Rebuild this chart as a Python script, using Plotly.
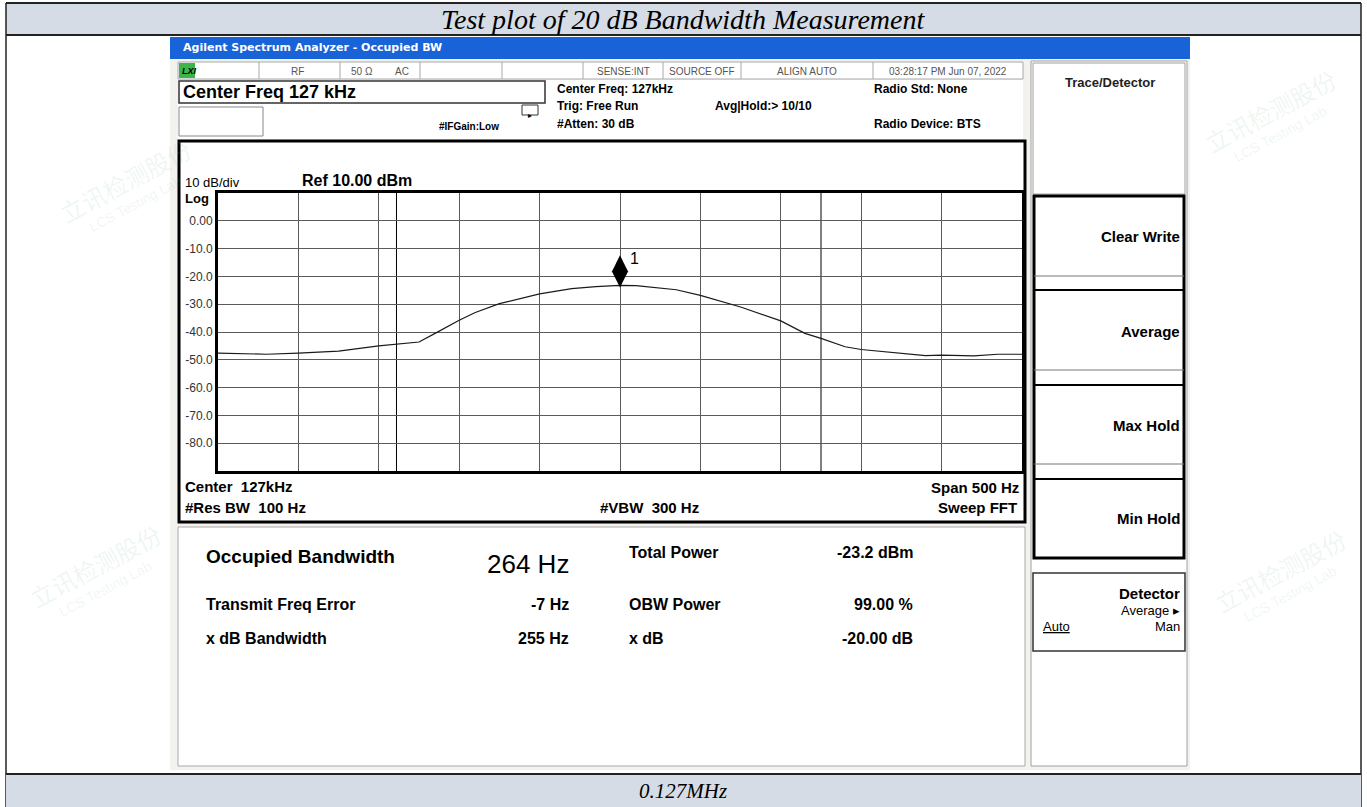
import plotly.graph_objects as go

W, H = 1367, 807

# ---------------- data ----------------
center_khz = 127
span_hz = 500
ref_level_dbm = 10
bottom_level_dbm = -90
freq_offset_hz = [-250, -230, -220, -200, -175, -150, -140, -125, -115, -100, -90, -75, -50, -30, -15, 0,
                  10, 20, 35, 50, 75, 100, 115, 125, 140, 150, 175, 190, 200, 220, 235, 250]
level_dbm = [-47.6, -47.8, -48.0, -47.6, -46.9, -45.0, -44.4, -43.6, -40.5, -35.8, -33.0, -29.8, -26.3, -24.4, -23.7, -23.2,
             -23.3, -23.8, -24.8, -26.8, -31.0, -36.0, -40.5, -42.3, -45.3, -46.3, -47.7, -48.5, -48.3, -48.6, -48.0, -48.0]
ytick_vals = [0, -10, -20, -30, -40, -50, -60, -70, -80]
ytick_text = ["0.00", "-10.0", "-20.0", "-30.0", "-40.0", "-50.0", "-60.0", "-70.0", "-80.0"]
obw_hz = 264
freq_error_hz = -7
xdb_bw_hz = 255
marker_name = "1"

# ---------------- helpers ----------------
def px(x):
    return x / W

def py(y):
    return 1 - y / H

shapes = []
annotations = []

def rect(x0, y0, x1, y1, fill=None, line=None, lw=1):
    shapes.append(dict(type="rect", xref="paper", yref="paper",
                       x0=px(x0), x1=px(x1), y0=py(y1), y1=py(y0),
                       fillcolor=fill if fill else "rgba(0,0,0,0)",
                       line=dict(color=line if line else "rgba(0,0,0,0)", width=lw if line else 0),
                       layer="below"))

def hline(x0, x1, y, color="black", lw=1):
    shapes.append(dict(type="line", xref="paper", yref="paper", x0=px(x0), x1=px(x1), y0=py(y), y1=py(y),
                       line=dict(color=color, width=lw), layer="below"))

def vline(x, y0, y1, color="black", lw=1):
    shapes.append(dict(type="line", xref="paper", yref="paper", x0=px(x), x1=px(x), y0=py(y0), y1=py(y1),
                       line=dict(color=color, width=lw), layer="below"))

def text(x, y, s, size=12, bold=False, anchor="left", color="black", family="Liberation Sans, Arial",
         italic=False, angle=0):
    annotations.append(dict(xref="paper", yref="paper", x=px(x), y=py(y), text=s, showarrow=False,
                            xanchor=anchor, yanchor="middle", textangle=angle,
                            font=dict(size=size, color=color, family=family,
                                      weight="bold" if bold else "normal",
                                      style="italic" if italic else "normal")))

# ---------------- document frame ----------------
rect(6, 3, 1361, 35, fill="#D6DCE5")
hline(6, 1361, 3, "#222", 2)
hline(6, 1361, 35, "#222", 2)
vline(6, 3, 807, "#222", 1.5)
vline(1361, 3, 807, "#222", 1.5)
text(683, 19, "Test plot of 20 dB Bandwidth Measurement", size=28, italic=True,
     anchor="center", family="Liberation Serif, Times New Roman")
rect(6, 774, 1361, 807, fill="#D6DCE5")
hline(6, 1361, 774, "#222", 2)
text(683, 791, "0.127MHz", size=21, italic=True, anchor="center", family="Liberation Serif, Times New Roman")

# watermarks (very faint)
for (wx, wy) in [(125, 180), (95, 565), (1270, 110), (1280, 570)]:
    text(wx, wy, "立讯检测股份", size=24, color="rgba(120,185,150,0.13)",
         family="Noto Sans CJK SC", angle=-28, anchor="center")
    text(wx + 10, wy + 24, "LCS Testing Lab", size=14, color="rgba(120,185,150,0.13)", angle=-28, anchor="center")

# ---------------- analyzer screenshot ----------------
rect(170, 37, 1190, 770, fill="#F3F2EE")
rect(170, 37, 1190, 59, fill="#1863D8")
text(181, 48, "Agilent Spectrum Analyzer - Occupied BW", size=11, bold=True, color="white",
     family="DejaVu Sans, Tahoma")

# status row
rect(178, 62, 1023, 79, fill="white", line="#A8A8A8", lw=1)
rect(179, 63, 195, 78, fill="#39B54A")
text(180, 71, "LXI", size=9, bold=True, italic=True, color="black")
for dx in [259, 340, 420, 502, 583, 663, 741, 873]:
    vline(dx, 62, 79, "#A8A8A8", 1)
for (tx, s) in [(297, "RF"), (362, "50 Ω"), (402, "AC"), (623, "SENSE:INT"), (702, "SOURCE OFF"), (807, "ALIGN AUTO"),
                (948, "03:28:17 PM Jun 07, 2022")]:
    text(tx, 71, s, size=10, color="#555", anchor="center")

# center freq area
rect(178, 80, 1023, 139, fill="white")
rect(179, 81, 545, 103, fill="white", line="#333", lw=1.5)
text(181, 92, "Center Freq 127 kHz", size=18, bold=True)
rect(179, 107, 263, 136, fill="white", line="#888", lw=1)
rect(522, 105, 538, 115, fill="white", line="#333", lw=1)
text(530, 116, "▸", size=8, anchor="center")
text(469, 127, "#IFGain:Low", size=10, bold=True, anchor="center")
text(555, 89, "Center Freq: 127kHz", size=12, bold=True)
text(555, 106, "Trig: Free Run", size=12, bold=True)
text(555, 124, "#Atten: 30 dB", size=12, bold=True)
text(713, 106, "Avg|Hold:> 10/10", size=12, bold=True)
text(872, 89, "Radio Std: None", size=12, bold=True)
text(872, 124, "Radio Device: BTS", size=12, bold=True)

# graph frame
rect(179, 141, 1025, 522, fill="white", line="black", lw=3)
text(183, 183, "10 dB/div", size=13)
text(300, 181, "Ref 10.00 dBm", size=16, bold=True)
text(183, 199, "Log", size=13, bold=True)
text(183, 486, "Center  127kHz", size=15, bold=True)
text(183, 508, "#Res BW  100 Hz", size=15, bold=True)
text(649, 508, "#VBW  300 Hz", size=15, bold=True, anchor="center")
text(1021, 487, "Span 500 Hz", size=15, bold=True, anchor="right")
text(1019, 508, "Sweep FFT", size=15, bold=True, anchor="right")

# results panel
rect(178, 527, 1025, 766, fill="white", line="#A8A8A8", lw=1)
text(204, 556, "Occupied Bandwidth", size=19, bold=True)
text(571, 564, f"{obw_hz} Hz", size=26, anchor="right")
text(204, 604, "Transmit Freq Error", size=16, bold=True)
text(571, 604, f"{freq_error_hz} Hz", size=16, bold=True, anchor="right")
text(204, 638, "x dB Bandwidth", size=16, bold=True)
text(571, 638, f"{xdb_bw_hz} Hz", size=16, bold=True, anchor="right")
text(627, 552, "Total Power", size=16, bold=True)
text(915, 552, "-23.2 dBm", size=16, bold=True, anchor="right")
text(627, 604, "OBW Power", size=16, bold=True)
text(915, 604, "99.00 %", size=16, bold=True, anchor="right")
text(627, 638, "x dB", size=16, bold=True)
text(915, 638, "-20.00 dB", size=16, bold=True, anchor="right")

# right softkey panel
rect(1031, 61, 1187, 766, fill="white", line="#A0A0A0", lw=1)
rect(1033, 63, 1185, 194, fill="white", line="#A0A0A0", lw=1)
text(1110, 82, "Trace/Detector", size=13, bold=True, anchor="center", color="#222")
rect(1034, 196, 1184, 558, fill="white", line="black", lw=3)
for ty in [290, 385, 479]:
    hline(1034, 1184, ty, "black", 2)
for ty in [276, 370, 464]:
    hline(1034, 1184, ty, "#777", 1)
for (ty, s) in [(237, "Clear Write"), (331, "Average"), (425, "Max Hold"), (518, "Min Hold")]:
    text(1182, ty, s, size=15, bold=True, anchor="right")
rect(1033, 573, 1185, 651, fill="white", line="#333", lw=1.5)
text(1182, 593, "Detector", size=15, bold=True, anchor="right")
text(1182, 610, "Average ▸", size=13, anchor="right")
text(1041, 626, "<u>Auto</u>", size=13)
text(1182, 626, "Man", size=13, anchor="right")

# ---------------- trace & axes ----------------
fig = go.Figure()
fig.add_trace(go.Scatter(x=freq_offset_hz, y=level_dbm, mode="lines",
                         line=dict(color="#1a1a1a", width=1.2), hoverinfo="skip", showlegend=False))

peak_level = max(level_dbm)
peak_f = freq_offset_hz[level_dbm.index(peak_level)]
fig.add_trace(go.Scatter(x=[peak_f], y=[peak_level + 5.0], mode="markers",
                         marker=dict(symbol="diamond-tall", size=23, color="black"),
                         hoverinfo="skip", showlegend=False))
annotations.append(dict(x=peak_f, y=peak_level, xref="x", yref="y", text=marker_name, showarrow=False,
                        xshift=14, yshift=27, font=dict(size=16, color="black", family="Liberation Sans, Arial")))

# OBW limit lines
obw_lo = freq_error_hz - obw_hz / 2
obw_hi = freq_error_hz + obw_hz / 2
for fx in [obw_lo, obw_hi]:
    shapes.append(dict(type="line", xref="x", yref="paper", x0=fx, x1=fx,
                       y0=py(471), y1=py(193), line=dict(color="black", width=1), layer="below"))

fig.update_layout(
    width=W, height=H, margin=dict(l=0, r=0, t=0, b=0),
    paper_bgcolor="white", plot_bgcolor="rgba(0,0,0,0)",
    shapes=shapes, annotations=annotations, showlegend=False,
    xaxis=dict(domain=[px(218), px(1022)], range=[-span_hz / 2, span_hz / 2], dtick=50, tick0=-span_hz / 2,
               showgrid=True, gridcolor="#5a5a5a", gridwidth=1, showticklabels=False, zeroline=False,
               showline=True, mirror=True, linecolor="black", linewidth=3, ticks=""),
    yaxis=dict(domain=[py(471), py(193)], range=[bottom_level_dbm, ref_level_dbm],
               tickvals=ytick_vals, ticktext=ytick_text, showgrid=True, gridcolor="#5a5a5a", gridwidth=1,
               zeroline=False, showline=True, mirror=True, linecolor="black", linewidth=3, ticks="",
               tickfont=dict(size=12, color="#333", family="Liberation Sans, Arial")),
)

fig.write_html("out.html", config={"displayModeBar": False},
               post_script="document.body.style.margin='0';document.body.style.overflow='hidden';")
